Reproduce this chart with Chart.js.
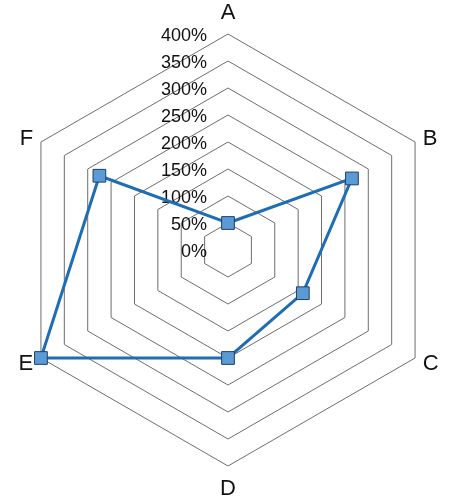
<!DOCTYPE html>
<html>
<head>
<meta charset="utf-8">
<script src="https://cdn.jsdelivr.net/npm/chart.js@4/dist/chart.umd.min.js"></script>
<style>
  html, body { margin: 0; padding: 0; background: #fff; }
  #wrap { width: 450px; height: 501px; }
</style>
</head>
<body>
<div id="wrap"><canvas id="radar"></canvas></div>
<script>
const CATEGORIES = ['A', 'B', 'C', 'D', 'E', 'F'];
const VALUES = [50, 265, 160, 200, 400, 275];
const TICKS = [0, 50, 100, 150, 200, 250, 300, 350, 400];

const FONT = '"Liberation Sans", Arial, sans-serif';

// tick + point labels drawn by hand so they sit like the original (left of axis, 0% shown)
const labelPlugin = {
  id: 'labels',
  beforeDatasetsDraw(chart) {
    const s = chart.scales.r;
    const ctx = chart.ctx;
    ctx.save();
    ctx.font = '18px ' + FONT;
    ctx.fillStyle = '#111';
    ctx.textAlign = 'right';
    ctx.textBaseline = 'middle';
    TICKS.forEach(t => {
      const d = s.getDistanceFromCenterForValue(t);
      ctx.fillText(t + '%', s.xCenter - 21, s.yCenter - d + 2);
    });
    ctx.restore();
  },
  afterDraw(chart) {
    const s = chart.scales.r;
    const ctx = chart.ctx;
    ctx.save();
    ctx.font = '22px ' + FONT;
    ctx.fillStyle = '#111';
    ctx.textBaseline = 'middle';
    CATEGORIES.forEach((c, i) => {
      const top = i === 0 || i === 3;
      const p = s.getPointPosition(i, s.drawingArea + (top ? 22 : 9));
      ctx.textAlign = top ? 'center' : (i < 3 ? 'left' : 'right');
      ctx.fillText(c, p.x, p.y + 1);
    });
    ctx.restore();
  },
};

new Chart(document.getElementById('radar'), {
  type: 'radar',
  data: {
    labels: CATEGORIES,
    datasets: [{
      data: VALUES,
      borderColor: '#1f6db3',
      borderWidth: 3,
      backgroundColor: 'transparent',
      fill: false,
      tension: 0,
      pointStyle: 'rect',
      pointRadius: 9,
      pointHoverRadius: 9,
      pointBackgroundColor: '#5b9bd5',
      pointBorderColor: '#1f3f6a',
      pointBorderWidth: 1,
    }],
  },
  options: {
    responsive: true,
    maintainAspectRatio: false,
    animation: false,
    layout: { padding: { left: 12, right: 6, top: 34, bottom: 35 } },
    scales: {
      r: {
        min: 0,
        max: 400,
        ticks: { stepSize: 50, display: false },
        grid: { color: '#6e6e6e', lineWidth: 1 },
        angleLines: { display: false },
        pointLabels: { display: false },
      },
    },
    plugins: { legend: { display: false }, tooltip: { enabled: false } },
  },
  plugins: [labelPlugin],
});
</script>
</body>
</html>
